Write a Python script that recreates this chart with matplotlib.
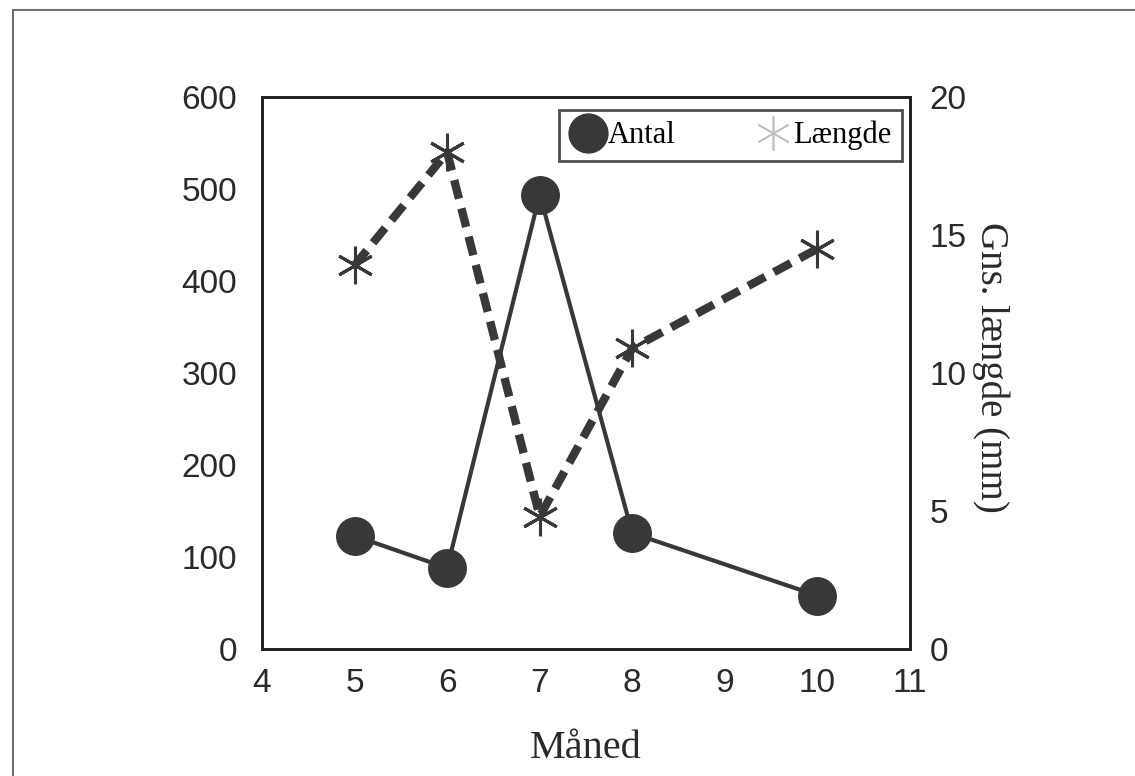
import numpy as np
import matplotlib
matplotlib.use('Agg')
import matplotlib.pyplot as plt
from matplotlib.lines import Line2D
from matplotlib.patches import Rectangle

maaned = [5, 6, 7, 8, 10]
antal = [123, 88, 494, 126, 58]
laengde = [13.9, 18.0, 4.8, 10.9, 14.5]

ink = '#383836'
serif = 'Liberation Serif'
sans = 'Liberation Sans'

fig = plt.figure(figsize=(11.35, 7.76), dpi=100)
ax = fig.add_axes([262 / 1135, 1 - 649 / 776, 648 / 1135, 552 / 776])
ax2 = ax.twinx()

# outer frame of the scanned figure
fig.patches.append(Rectangle((13 / 1135, -0.1), 1.2, 1 - 10 / 776 + 0.1,
                             transform=fig.transFigure, fill=False,
                             edgecolor='#707070', linewidth=1.5))

ax.plot(maaned, antal, color=ink, linewidth=3, marker='o',
        markersize=27, markerfacecolor=ink, markeredgecolor=ink, zorder=3)
ax2.plot(maaned, laengde, color=ink, linewidth=6, dashes=(2.3, 1.2),
         marker=(6, 2, 0), markersize=27, markeredgewidth=2.2,
         markeredgecolor=ink, zorder=3)

ax.set_xlim(4, 11)
ax.set_ylim(0, 600)
ax2.set_ylim(0, 20)
ax.set_xticks(range(4, 12))
ax.set_yticks(range(0, 601, 100))
ax2.set_yticks(range(0, 21, 5))

for a in (ax, ax2):
    for s in a.spines.values():
        s.set_linewidth(2)
        s.set_color('#222222')
ax.tick_params(axis='both', length=0, labelsize=24, colors='#2a2a2a')
ax.tick_params(axis='y', pad=18)
ax.tick_params(axis='x', pad=14)
ax2.tick_params(axis='y', length=0, labelsize=24, colors='#2a2a2a', pad=14)
for lab in ax.get_xticklabels() + ax.get_yticklabels() + ax2.get_yticklabels():
    lab.set_fontfamily(sans)

ax.set_xlabel('Måned', fontsize=29, fontfamily=serif, color='#2a2a2a', labelpad=22)
ax2.set_ylabel('Gns. længde (mm)', fontsize=28, fontfamily=serif, color='#2a2a2a',
               rotation=270, va='center', ha='center')
ax2.yaxis.set_label_coords(1.125, 0.51)

handles = [
    Line2D([], [], linestyle='none', marker='o', markersize=28,
           markerfacecolor=ink, markeredgecolor=ink),
    Line2D([], [], linestyle='none', marker=(6, 2, 0), markersize=25,
           markeredgecolor='#c0c0c0', markeredgewidth=1.2),
]
leg = ax2.legend(handles, ['Antal', 'Længde'], loc='upper right',
                 bbox_to_anchor=(0.988, 0.976), borderaxespad=0, ncol=2,
                 prop={'family': serif, 'size': 22}, frameon=True, fancybox=False,
                 handlelength=1.2, handletextpad=0.05, columnspacing=2.6,
                 borderpad=0.35)
leg.get_frame().set_edgecolor('#222222')
leg.get_frame().set_linewidth(2)

fig.savefig('out.png', dpi=100)
